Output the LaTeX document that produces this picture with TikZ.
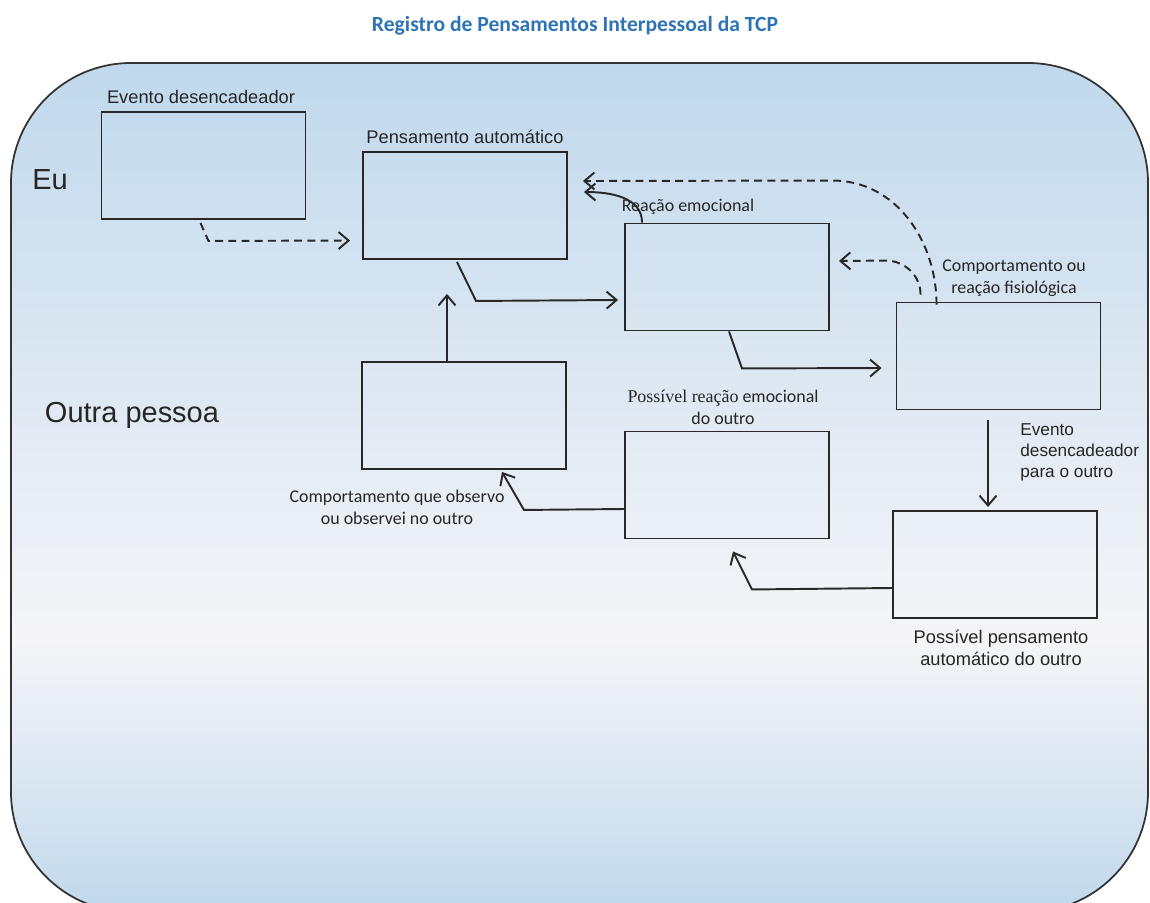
\documentclass[tikz,border=0pt]{standalone}
\usepackage{fontspec}
\setmainfont{Liberation Sans}
\newfontfamily\calibri{Carlito}
\newfontfamily\timesf{Liberation Serif}
\usetikzlibrary{arrows.meta,positioning,calc}

\definecolor{bgblue}{RGB}{192,216,236}
\definecolor{bgwhite}{RGB}{245,245,248}
\definecolor{titleblue}{RGB}{46,116,181}
\definecolor{linegray}{RGB}{40,40,40}

\begin{document}
\begin{tikzpicture}[x=0.02cm,y=-0.02cm,>={Straight Barb[length=2mm,width=3.4mm]},
  box/.style={draw=linegray,line width=1.1pt,minimum width=4.08cm,minimum height=2.14cm,inner sep=0pt},
  conn/.style={draw=linegray,line width=1.1pt},
  dash line/.style={conn,dash pattern=on 4.5pt off 3pt},
  arial/.style={font=\fontsize{10.4}{12.5}\selectfont,inner sep=0pt,text=black!85},
  calib/.style={font=\calibri\fontsize{10.2}{12.5}\selectfont,inner sep=0pt,text=black!85,align=center},
  big/.style={font=\fontsize{16.5}{20}\selectfont,inner sep=0pt,text=black!85}]

  \useasboundingbox (0,0) rectangle (1150,903);

  % background
  \begin{scope}
    \clip[rounded corners=2.4cm] (11,63) rectangle (1148,912);
    \shade[top color=bgblue,bottom color=bgwhite] (0,60) rectangle (1150,640);
    \shade[top color=bgwhite,bottom color=bgblue] (0,640) rectangle (1150,915);
  \end{scope}
  \draw[rounded corners=2.4cm,line width=1pt,draw=black!80] (11,63) rectangle (1148,912);

  \node[font=\calibri\bfseries\fontsize{12.3}{14}\selectfont,text=titleblue] (title) at (575,26)
    {Registro de Pensamentos Interpessoal da TCP};

  \node[big] (eu) at (50,180) {Eu};
  \node[big] (outra) at (132,415) {Outra pessoa};

  % boxes
  \node[box] (1) at (203.5,165.5) {};
  \node[box] (2) at (465,205.5) {};
  \node[box] (3) at (727,277) {};
  \node[box] (4) at (998.5,356) {};
  \node[box] (5) at (995,564.5) {};
  \node[box] (6) at (727,485) {};
  \node[box] (7) at (464,415.5) {};

  % labels
  \node[arial] (l1) at (201,97) {Evento desencadeador};
  \node[arial] (l2) at (465,137) {Pensamento automático};
  \node[calib] (l3) at (688,207) {Reação emocional};
  \node[calib] (l4) at (1014,278) {Comportamento ou\\reação fisiológica};
  \node[calib] (l5) at (723,407) {{\timesf Possível reação} emocional\\do outro};
  \node[arial,align=left,anchor=west,font=\fontsize{9.8}{12}\selectfont] (l6) at (1020,452)
    {Evento\\desencadeador\\para o outro};
  \node[arial,align=center] (l7) at (1001,648) {Possível pensamento\\automático do outro};
  \node[calib] (l8) at (397,507) {Comportamento que observo\\ou observei no outro};

  % connectors
  \draw[dash line,->] ($(1.south)+(-3,3)$) -- ($(1.south)+(5,21)$) -- ($(2.west)+(-12,35)$);
  \draw[conn,->] ($(2.south)+(-8,2)$) -- ($(2.south)+(11,41)$) -- ($(3.west)+(-6,23)$);
  \draw[conn,->] ($(3.north west)+(18,0)$) to[out=90,in=0] ($(2.east)+(16,-13.5)$);
  \draw[dash line,->] ($(4.north west)+(41,3)$) to[out=90,in=0] ($(4.north west)+(-63,-121)$)
    -- ($(2.east)+(15,-24.5)$);
  \draw[dash line,->] ($(4.north west)+(25,-7)$) to[out=90,in=0] ($(4.north west)+(-10,-41)$)
    -- ($(3.east)+(9,-16)$);
  \draw[conn,->] ($(3.south)+(2,0)$) -- ($(3.south)+(15,37)$) -- ($(4.west)+(-14,12)$);
  \draw[conn,->] ($(4.south)+(-10.5,10)$) -- ($(5.north)+(-7,-3)$);
  \draw[conn,->] ($(5.west)+(0,23.5)$) -- ($(6.south)+(25,50)$) -- ($(6.south)+(6,12)$);
  \draw[conn,->] ($(6.west)+(0,24)$) -- ($(7.south)+(60,40)$) -- ($(7.south)+(38,2)$);
  \draw[conn,->] ($(7.north)+(-17,0)$) -- ($(2.south)+(-18,34)$);
\end{tikzpicture}
\end{document}
